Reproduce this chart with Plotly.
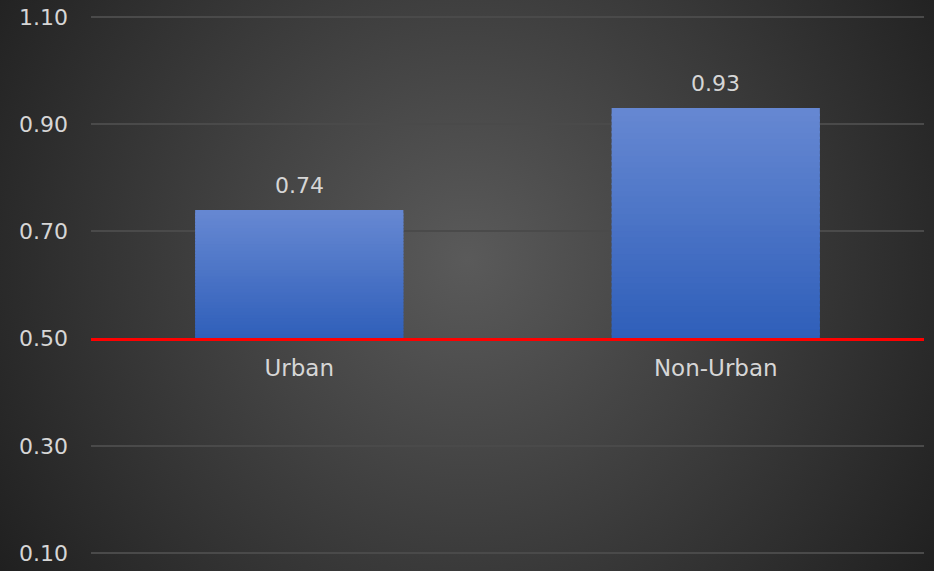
import base64
import plotly.graph_objects as go

categories = ["Urban", "Non-Urban"]
values = [0.74, 0.93]
baseline = 0.5
y_ticks = [0.10, 0.30, 0.50, 0.70, 0.90, 1.10]
y_tick_labels = ["0.10", "0.30", "0.50", "0.70", "0.90", "1.10"]

FONT = "DejaVu Sans"
TXT = "#d6d6d6"
W, H = 934, 571
ML, MR, MT, MB = 91, 10, 15, 16
PW, PH = W - ML - MR, H - MT - MB

svg = """<svg xmlns='http://www.w3.org/2000/svg' width='934' height='571' viewBox='0 0 934 571' preserveAspectRatio='none'>
<defs><radialGradient id='g' gradientUnits='userSpaceOnUse' cx='467' cy='260' r='560'>
<stop offset='0%' stop-color='#5a5a5a'/><stop offset='100%' stop-color='#202020'/>
</radialGradient></defs><rect width='934' height='571' fill='url(#g)'/></svg>"""
bg_uri = "data:image/svg+xml;base64," + base64.b64encode(svg.encode()).decode()

top_rgb = (0x66, 0x88, 0xD2)
bot_rgb = (0x2E, 0x5E, 0xB9)
N = 40

fig = go.Figure()
for k in range(N):
    f = (k + 0.5) / N
    c = tuple(round(b + (t - b) * f) for t, b in zip(top_rgb, bot_rgb))
    col = "rgb(%d,%d,%d)" % c
    ov = 0.0 if k == 0 else 0.004
    fig.add_trace(go.Bar(
        x=categories,
        y=[(v - baseline) / N + ov for v in values],
        base=[baseline + (v - baseline) * k / N - ov for v in values],
        width=0.5,
        marker=dict(color=col, line=dict(width=0)),
        hoverinfo="skip",
        showlegend=False,
    ))

for c, v in zip(categories, values):
    fig.add_annotation(x=c, y=v, text="%.2f" % v, showarrow=False,
                       yanchor="bottom", yshift=10,
                       font=dict(family=FONT, size=22, color=TXT))

fig.update_layout(
    width=W, height=H,
    margin=dict(l=ML, r=MR, t=MT, b=MB, autoexpand=False),
    paper_bgcolor="#333333",
    plot_bgcolor="rgba(0,0,0,0)",
    barmode="overlay",
    bargap=0.5,
    showlegend=False,
    images=[dict(source=bg_uri, xref="paper", yref="paper",
                 x=-ML / PW, y=1 + MT / PH,
                 sizex=W / PW, sizey=H / PH, xanchor="left", yanchor="top",
                 sizing="stretch", layer="below")],
    xaxis=dict(
        anchor="free", position=(baseline - 0.0965) / (1.1035 - 0.0965),
        showline=True, linecolor="#ff0000", linewidth=3,
        showgrid=False, ticks="", zeroline=False, automargin=False,
        tickfont=dict(family=FONT, size=23, color=TXT),
        ticklabelstandoff=8,
    ),
    yaxis=dict(
        range=[0.0965, 1.1035], tickvals=y_ticks, ticktext=y_tick_labels,
        showgrid=True, gridcolor="#4a4a4a", gridwidth=2,
        zeroline=False, showline=False, ticks="", automargin=False,
        tickfont=dict(family=FONT, size=22, color=TXT),
        ticklabelstandoff=22,
    ),
)

fig.write_html("out.html")
